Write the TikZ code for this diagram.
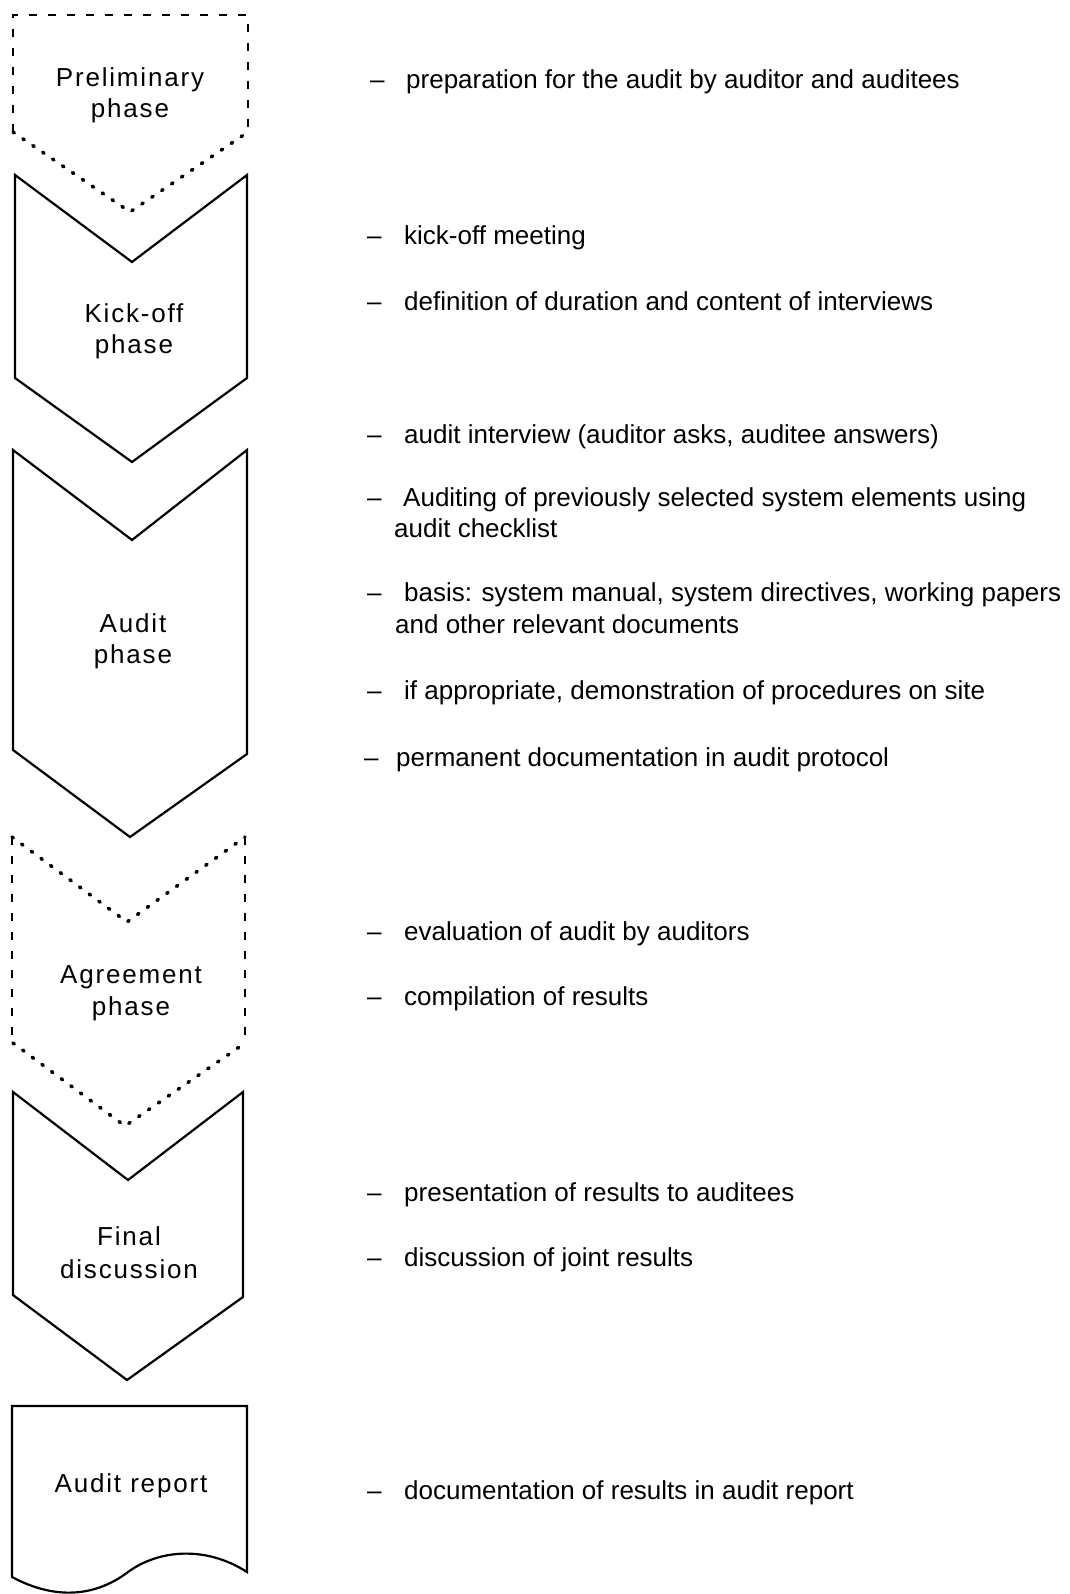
\documentclass[tikz,border=0pt]{standalone}
\usepackage{fontspec}
\setmainfont{Liberation Sans}
\newfontfamily\phasefont[LetterSpace=7]{Liberation Sans}

\tikzset{
  solidline/.style={line width=2.2pt, line join=miter},
  dashline/.style={line width=2.6pt, dash pattern=on 8pt off 11pt},
  dotline/.style={line width=3.6pt, line cap=round, dash pattern=on 1.6pt off 10.4pt},
  phaselabel/.style={anchor=base, inner sep=0pt, font=\phasefont\fontsize{26}{31}\selectfont},
  itemtext/.style={anchor=base west, inner sep=0pt, font=\fontsize{26}{30}\selectfont},
  itemdash/.style={anchor=base west, inner sep=0pt, font=\fontsize{26}{30}\selectfont},
}

\begin{document}
\begin{tikzpicture}[x=1pt, y=-1pt]
  \useasboundingbox (0,0) rectangle (1069,1594);
  \fill[white] (0,0) rectangle (1069,1594);

  % Preliminary phase: dashed frame, dotted chevron bottom
  \draw[dashline] (13,132) -- (13,15) -- (248,15) -- (248,132);
  \draw[dotline] (13,132) -- (130,212) -- (248,132);

  % Kick-off phase
  \draw[solidline] (15,175) -- (132,262) -- (247,175) -- (247,378) -- (132,462) -- (15,378) -- cycle;

  % Audit phase
  \draw[solidline] (13,450) -- (132,540) -- (247,450) -- (247,754) -- (130,837) -- (13,750) -- cycle;

  % Agreement phase: dotted chevrons, dashed sides
  \draw[dotline] (12,837) -- (127,922) -- (245,837);
  \draw[dashline] (12,837) -- (12,1043);
  \draw[dashline] (245,837) -- (245,1043);
  \draw[dotline] (13,1043) -- (125,1126) -- (245,1043);

  % Final discussion
  \draw[solidline] (13,1092) -- (128,1180) -- (243,1092) -- (243,1297) -- (127,1380) -- (13,1295) -- cycle;

  % Audit report: document shape with wavy bottom
  \draw[solidline] (12,1577) -- (12,1406) -- (247,1406) -- (247,1572)
    .. controls (205,1545) and (158,1550) .. (128,1572)
    .. controls (95,1597) and (55,1600) .. (12,1577) -- cycle;

  % Phase labels
  \node[phaselabel] (prelimA) at (130,87) {Preliminary};
  \node[phaselabel] (prelimB) at (130,118) {phase};
  \node[phaselabel] (kickA) at (134,323) {Kick-off};
  \node[phaselabel] (kickB) at (134,353) {phase};
  \node[phaselabel] (auditA) at (133,632) {Audit};
  \node[phaselabel] (auditB) at (133,663) {phase};
  \node[phaselabel] (agreeA) at (131,983) {Agreement};
  \node[phaselabel] (agreeB) at (131,1015) {phase};
  \node[phaselabel] (finalA) at (129,1245) {Final};
  \node[phaselabel] (finalB) at (129,1278) {discussion};
  \node[phaselabel] (report) at (131,1492) {Audit report};

  % Activity list
  \node[itemdash] (d1) at (370,89) {–};
  \node[itemtext] (t1) at (406,89) {preparation for the audit by auditor and auditees};

  \node[itemdash] (d2) at (367,245) {–};
  \node[itemtext] (t2) at (404,245) {kick-off meeting};
  \node[itemdash] (d3) at (367,310) {–};
  \node[itemtext] (t3) at (404,310) {definition of duration and content of interviews};

  \node[itemdash] (d4) at (367,443) {–};
  \node[itemtext] (t4) at (404,443) {audit interview (auditor asks, auditee answers)};
  \node[itemdash] (d5) at (367,506) {–};
  \node[itemtext] (t5) at (403,506) {Auditing of previously selected system elements using};
  \node[itemtext] (t5b) at (394,537) {audit checklist};
  \node[itemdash] (d6) at (367,601) {–};
  \node[itemtext] (t6) at (404,601) {basis: system manual, system directives, working papers};
  \node[itemtext] (t6b) at (395,633) {and other relevant documents};
  \node[itemdash] (d7) at (367,699) {–};
  \node[itemtext] (t7) at (404,699) {if appropriate, demonstration of procedures on site};
  \node[itemdash] (d8) at (364,766) {–};
  \node[itemtext] (t8) at (396,766) {permanent documentation in audit protocol};

  \node[itemdash] (d9) at (367,940) {–};
  \node[itemtext] (t9) at (404,940) {evaluation of audit by auditors};
  \node[itemdash] (d10) at (367,1005) {–};
  \node[itemtext] (t10) at (404,1005) {compilation of results};

  \node[itemdash] (d11) at (367,1201) {–};
  \node[itemtext] (t11) at (404,1201) {presentation of results to auditees};
  \node[itemdash] (d12) at (367,1266) {–};
  \node[itemtext] (t12) at (404,1266) {discussion of joint results};

  \node[itemdash] (d13) at (367,1499) {–};
  \node[itemtext] (t13) at (404,1499) {documentation of results in audit report};
\end{tikzpicture}
\end{document}
